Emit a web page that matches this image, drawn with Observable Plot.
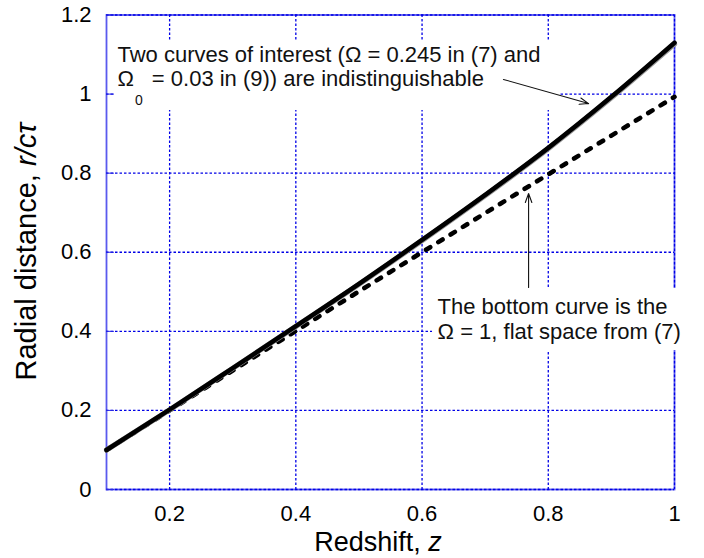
<!DOCTYPE html>
<html><head><meta charset="utf-8">
<script src="https://cdn.jsdelivr.net/npm/d3@7"></script>
<script src="https://cdn.jsdelivr.net/npm/@observablehq/plot@0.6"></script>
<style>
body{margin:0;background:#fff}
#chart{width:704px;height:558px}
</style>
</head><body><div id="chart"></div>
<script>
// ---- data ----
const redshift   = [0.1, 0.2, 0.3, 0.4, 0.5, 0.6, 0.7, 0.8, 0.9, 1.0];
const omega0245  = [0.1, 0.202, 0.307, 0.413, 0.52, 0.631, 0.745, 0.864, 0.993, 1.13];      // Ω = 0.245 in (7)
const omega003   = [0.1, 0.2015, 0.3065, 0.4123, 0.5188, 0.6294, 0.7432, 0.862, 0.9905, 1.1265]; // Ω0 = 0.03 in (9)
const flatOmega1 = [0.1, 0.2, 0.301, 0.401, 0.501, 0.6, 0.699, 0.797, 0.895, 0.993];     // Ω = 1, flat space
const xTicks = [0.2, 0.4, 0.6, 0.8, 1];
const yTicks = [0, 0.2, 0.4, 0.6, 0.8, 1, 1.2];
const xLabelParts = [["Redshift, ", false], ["z", true]];
const yLabelParts = [["Radial distance, ", false], ["r/cτ", true]];
const noteLines = [
  {z: 0.1174, r: 1.0984, text: "Two curves of interest (Ω = 0.245 in (7) and"},
  {z: 0.1174, r: 1.037,  text: "Ω0 = 0.03 in (9)) are indistinguishable"},
  {z: 0.6246, r: 0.4628, text: "The bottom curve is the"},
  {z: 0.6246, r: 0.3996, text: "Ω = 1, flat space from (7)"}
];
const noteBoxes = [
  {z1: 0.114, z2: 0.8195, r1: 0.9585, r2: 1.1356},
  {z1: 0.6166, z2: 1.0255, r1: 0.3515, r2: 0.5083}
];
const noteArrows = [
  {z1: 0.729, r1: 1.037, z2: 0.8639, r2: 0.976},
  {z1: 0.7688, r1: 0.511, z2: 0.7688, r2: 0.7486}
];

const toRows = (ys) => redshift.map((z, i) => ({z, r: ys[i]}));
const fmt = d => String(+d.toFixed(1));
const gridColor = "#0000e6";

const chart = Plot.plot({
  width: 704, height: 558,
  marginLeft: 106, marginRight: 30, marginTop: 14.5, marginBottom: 69,
  style: {fontFamily: "'Liberation Sans', Arial, sans-serif", fontSize: "22px", background: "#fff", color: "#000", overflow: "visible"},
  x: {domain: [0.1, 1], label: null},
  y: {domain: [0, 1.2], label: null},
  marks: [
    Plot.frame({stroke: "#5a5aee", strokeWidth: 1.8}),
    Plot.gridX(xTicks, {stroke: gridColor, strokeOpacity: 1, strokeWidth: 1.3, strokeDasharray: "2.5,2"}),
    Plot.gridY(yTicks, {stroke: gridColor, strokeOpacity: 1, strokeWidth: 1.3, strokeDasharray: "2.5,2"}),
    Plot.axisY(yTicks, {tickSize: -8, tickPadding: 23, stroke: "#2a2ae6", tickFormat: fmt, fill: "#000", fontSize: 22, label: null}),
    Plot.axisX(xTicks, {tickSize: 0, tickPadding: 16, tickFormat: fmt, fill: "#000", fontSize: 22, label: null}),
    Plot.rect(noteBoxes, {x1: "z1", x2: "z2", y1: "r1", y2: "r2", fill: "white", clip: false}),
    Plot.line(toRows(flatOmega1), {x: "z", y: "r", stroke: "black", strokeWidth: 4.6, strokeDasharray: "5,9.5", strokeLinecap: "round", curve: "monotone-x"}),
    Plot.line(toRows(omega003), {x: "z", y: "r", stroke: "#9a9a9a", strokeWidth: 5.2, curve: "monotone-x"}),
    Plot.line(toRows(omega0245), {x: "z", y: "r", stroke: "black", strokeWidth: 4.6, curve: "monotone-x"}),
    Plot.text(noteLines, {x: "z", y: "r", text: "text", textAnchor: "start", lineAnchor: "middle", fontSize: 22, fill: "#111", clip: false}),
    Plot.arrow(noteArrows, {x1: "z1", y1: "r1", x2: "z2", y2: "r2", stroke: "#111", strokeWidth: 1.1, headLength: 13, headAngle: 40})
  ]
});

document.getElementById("chart").appendChild(chart);

const svg = d3.select(chart);
// subscript for Ω0
svg.selectAll("text").filter(function(){ return this.textContent.startsWith("Ω0"); }).each(function(){
  const t = d3.select(this);
  const rest = this.textContent.slice(2);
  t.text("");
  t.append("tspan").text("Ω");
  t.append("tspan").attr("dy", 19).attr("font-size", 14).attr("dx", 1).text("0");
  t.append("tspan").attr("dy", -19).attr("dx", 3).text(rest);
});

const xs = chart.scale("x"), ys = chart.scale("y");
const xMid = (xs.range[0] + xs.range[1]) / 2;
const yMid = (ys.range[0] + ys.range[1]) / 2;
const xl = svg.append("text").attr("x", xMid - 12).attr("y", 551).attr("text-anchor", "middle")
  .attr("font-size", 27).attr("font-family", "'Liberation Sans', Arial, sans-serif").attr("fill", "#000");
xLabelParts.forEach(([s, it]) => xl.append("tspan").attr("font-style", it ? "italic" : null).text(s));
const yl = svg.append("text").attr("transform", `translate(36,${yMid}) rotate(-90)`).attr("text-anchor", "middle")
  .attr("font-size", 29).attr("font-family", "'Liberation Sans', Arial, sans-serif").attr("fill", "#000");
yLabelParts.forEach(([s, it]) => yl.append("tspan").attr("font-style", it ? "italic" : null).text(s));
</script>
</body></html>
